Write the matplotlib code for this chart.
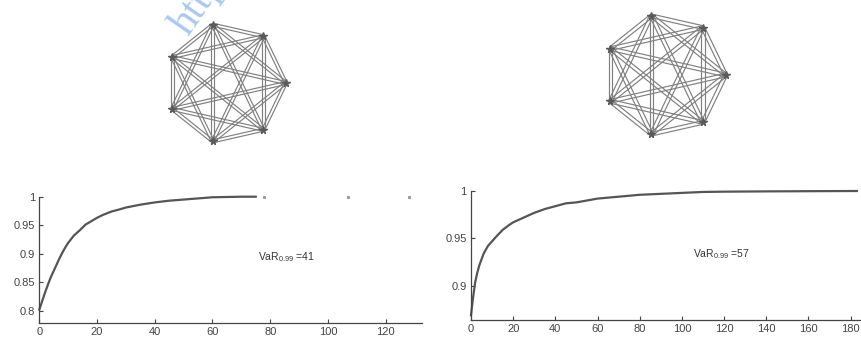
import numpy as np
import matplotlib

matplotlib.use("Agg")
import matplotlib.pyplot as plt

W, H = 862, 341

# network: complete graph on 7 nodes, edges drawn as double lines
N_NODES = 7

# empirical loss distributions (x = loss, y = cumulative probability)
left_x = [0, 1, 2, 3, 4, 5, 6, 7, 8, 9, 10, 12, 14, 16, 18, 20, 22, 25, 28, 30,
          35, 40, 45, 50, 55, 60, 65, 70, 75]
left_y = [0.802, 0.817, 0.832, 0.846, 0.859, 0.870, 0.881, 0.892, 0.902, 0.911,
          0.919, 0.932, 0.941, 0.951, 0.957, 0.963, 0.968, 0.974, 0.978, 0.981,
          0.986, 0.990, 0.993, 0.995, 0.997, 0.999, 0.9995, 1.0, 1.0]
left_dots_x = [78, 107, 128]
left_dots_y = [1.0, 1.0, 1.0]

right_x = [0, 1, 2, 3, 4, 6, 8, 10, 12, 15, 18, 20, 25, 30, 35, 40, 45, 50, 55,
           60, 65, 70, 80, 90, 100, 110, 120, 140, 160, 183]
right_y = [0.869, 0.888, 0.904, 0.914, 0.922, 0.934, 0.942, 0.947, 0.952, 0.959,
           0.964, 0.967, 0.972, 0.977, 0.981, 0.984, 0.987, 0.988, 0.990,
           0.992, 0.993, 0.994, 0.996, 0.997, 0.998, 0.999, 0.9993, 0.9996,
           0.9998, 1.0]

left_ticks = [0, 20, 40, 60, 80, 100, 120]
left_yticks = [0.8, 0.85, 0.9, 0.95, 1]
right_ticks = [0, 20, 40, 60, 80, 100, 120, 140, 160, 180]
right_yticks = [0.9, 0.95, 1]

left_label = r"VaR$_{0.99}$ =41"
right_label = r"VaR$_{0.99}$ =57"

plt.rcParams["font.family"] = ["Liberation Sans", "DejaVu Sans"]
plt.rcParams["mathtext.fontset"] = "custom"
plt.rcParams["mathtext.rm"] = "Liberation Sans"
plt.rcParams["mathtext.it"] = "Liberation Sans"

fig = plt.figure(figsize=(W / 100, H / 100), dpi=100)


def px_axes(x0, y0, x1, y1):
  # pixel box (top-left origin) -> figure axes
  return fig.add_axes([x0 / W, 1 - y1 / H, (x1 - x0) / W, (y1 - y0) / H])


def draw_graph(ax, n, gap):
  ang = 2 * np.pi * np.arange(n) / n
  xs, ys = np.cos(ang), np.sin(ang)
  for i in range(n):
    for j in range(i + 1, n):
      dx, dy = xs[j] - xs[i], ys[j] - ys[i]
      ln = np.hypot(dx, dy)
      nx, ny = -dy / ln * gap, dx / ln * gap
      for s in (-1, 1):
        ax.plot([xs[i] + s * nx, xs[j] + s * nx], [ys[i] + s * ny, ys[j] + s * ny],
                color="#808080", lw=0.85, solid_capstyle="butt")
  ax.plot(xs, ys, "*", color="#5a5a5a", ms=5.5, mec="#5a5a5a")
  ax.set_xlim(-1.17, 1.17)
  ax.set_ylim(-1.17, 1.17)
  ax.set_aspect("equal")
  ax.axis("off")


g1 = px_axes(226 - 70, 83 - 70, 226 + 70, 83 + 70)
draw_graph(g1, N_NODES, 0.025)
g2 = px_axes(665 - 71, 75 - 71, 665 + 71, 75 + 71)
draw_graph(g2, N_NODES, 0.03)


def style(ax):
  for side in ("top", "right"):
    ax.spines[side].set_visible(False)
  for side in ("left", "bottom"):
    ax.spines[side].set_color("#444444")
    ax.spines[side].set_linewidth(0.9)
  ax.tick_params(direction="in", length=3, width=0.8, colors="#444444",
                 labelsize=8, pad=3)


# left distribution
a1 = px_axes(39.3, 196.7, 422, 323.3)
a1.plot(left_x, left_y, color="#555555", lw=1.6, clip_on=False)
a1.plot(left_dots_x, left_dots_y, "s", color="#999999", ms=1.2, clip_on=False)
a1.set_xlim(0, 132.6)
a1.set_ylim(0.778, 1.0)
a1.set_xticks(left_ticks)
a1.set_yticks(left_yticks)
a1.set_yticklabels(["0.8", "0.85", "0.9", "0.95", "1"])
a1.text(75.8, 0.894, left_label, fontsize=7.5, color="#333333", va="center")
style(a1)

# right distribution
a2 = px_axes(471, 191, 471 + 200 * 2.109, 320)
a2.plot(right_x, right_y, color="#555555", lw=1.6, clip_on=False)
a2.set_xlim(0, 200)
a2.set_ylim(0.864, 1.0)
a2.set_xticks(right_ticks)
a2.set_yticks(right_yticks)
a2.set_yticklabels(["0.9", "0.95", "1"])
a2.text(105.5, 0.933, right_label, fontsize=7.5, color="#333333", va="center")
style(a2)

# watermark
fig.text(196 / W, 1 - 42 / H, "http://", rotation=55, fontsize=30,
         family="Liberation Serif", color="#a9c8f0", ha="left", va="bottom",
         rotation_mode="anchor")

fig.savefig("out.png", dpi=100)
